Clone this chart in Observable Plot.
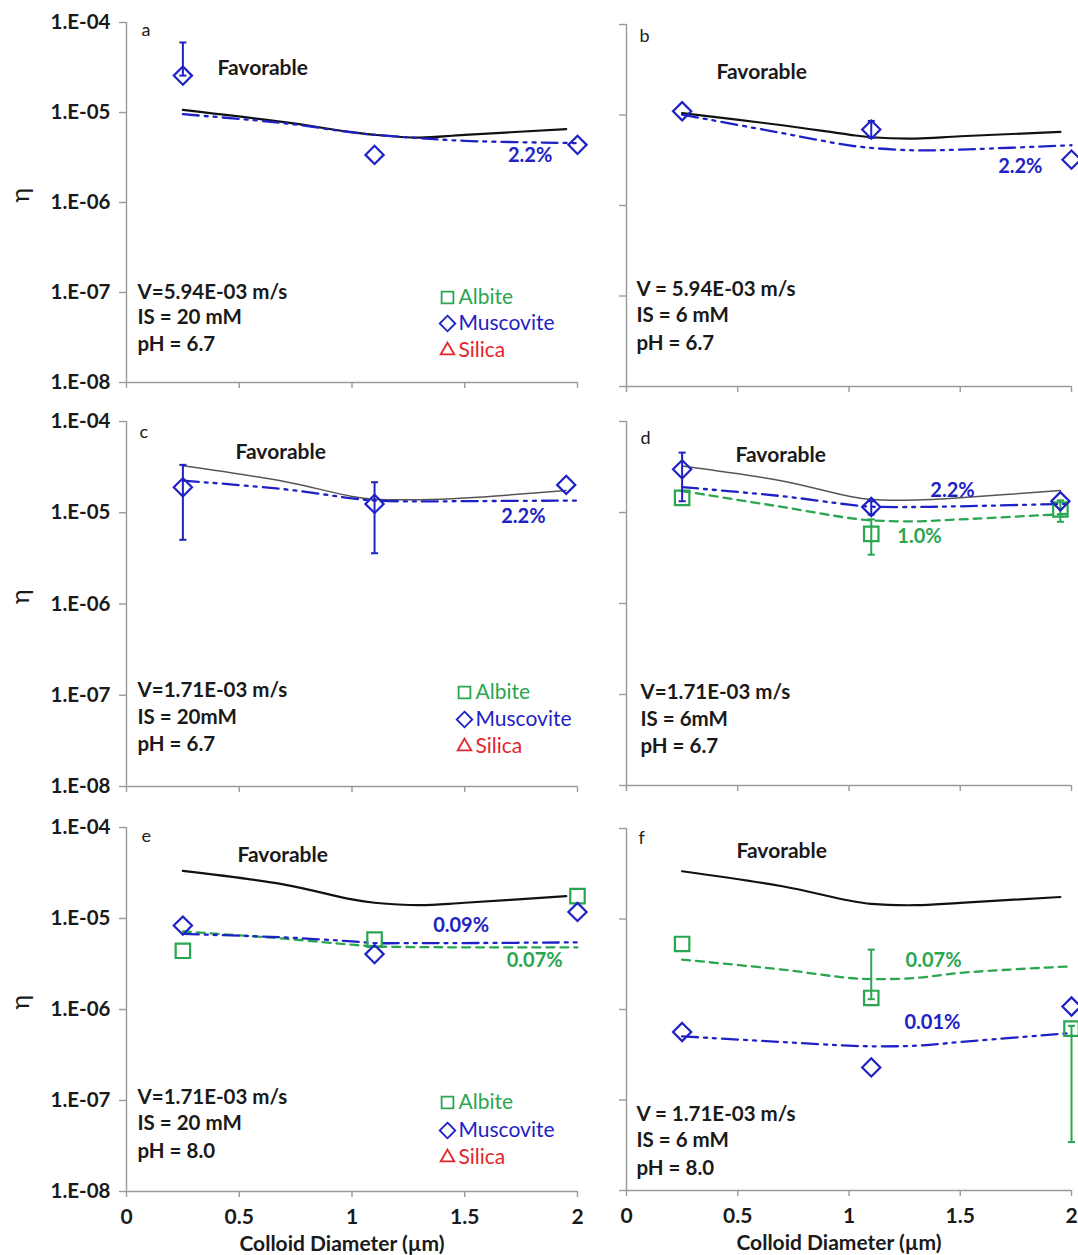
<!DOCTYPE html>
<html>
<head>
<meta charset="utf-8">
<title>Collector efficiency vs colloid diameter</title>
<script src="https://cdn.jsdelivr.net/npm/d3@7"></script>
<script src="https://cdn.jsdelivr.net/npm/@observablehq/plot@0.6"></script>
<style>
  html, body { margin: 0; padding: 0; background: #fff; }
  #fig { position: relative; width: 1078px; height: 1255px; overflow: hidden; background: #fff; }
  #fig svg { position: absolute; overflow: visible; }
</style>
</head>
<body>
<div id="fig"></div>
<script>
// Colloid diameters (µm) of the measured points
const sizeX   = [0.25, 1.1, 2.0];
const sizeXcd = [0.25, 1.1, 1.95];
// Diameters at which the model curves are drawn
const favX = [0.25, 0.7, 1.0, 1.1, 1.3, 1.5, 1.95];
const fitX = [0.25, 0.7, 1.0, 1.1, 1.3, 1.5, 2.0];

const xTicks = [0, 0.5, 1, 1.5, 2];
const yTicks = [1e-4, 1e-5, 1e-6, 1e-7, 1e-8];

// (a) V = 5.94E-03 m/s, IS = 20 mM, pH 6.7
const favA     = [1.07e-5, 7.8e-6, 6.04e-6, 5.65e-6, 5.27e-6, 5.65e-6, 6.52e-6];
const muscFitA = [9.57e-6, 7.6e-6, 6.0e-6, 5.65e-6, 5.19e-6, 4.84e-6, 4.57e-6];
const muscA    = [2.57e-5, 3.38e-6, 4.37e-6];
const muscLoA  = [2.57e-5, null, null];
const muscHiA  = [6.0e-5, null, null];

// (b) V = 5.94E-03 m/s, IS = 6 mM, pH 6.7
const favB     = [1.05e-5, 7.7e-6, 6.07e-6, 5.68e-6, 5.49e-6, 5.82e-6, 6.5e-6];
const muscFitB = [1.01e-5, 6.3e-6, 4.62e-6, 4.33e-6, 4.07e-6, 4.15e-6, 4.63e-6];
const muscB    = [1.10e-5, 6.9e-6, 3.21e-6];
const muscLoB  = [null, 5.6e-6, null];
const muscHiB  = [null, 8.6e-6, null];

// (c) V = 1.71E-03 m/s, IS = 20 mM, pH 6.7
const favC     = [3.27e-5, 2.2e-5, 1.51e-5, 1.41e-5, 1.39e-5, 1.45e-5, 1.75e-5];
const muscFitC = [2.25e-5, 1.81e-5, 1.44e-5, 1.36e-5, 1.33e-5, 1.34e-5, 1.36e-5];
const muscC    = [1.9e-5, 1.25e-5, 2.02e-5];
const muscLoC  = [5.05e-6, 3.6e-6, null];
const muscHiC  = [3.35e-5, 2.16e-5, null];

// (d) V = 1.71E-03 m/s, IS = 6 mM, pH 6.7
const favD     = [3.24e-5, 2.22e-5, 1.51e-5, 1.39e-5, 1.37e-5, 1.45e-5, 1.75e-5];
const muscFitD = [1.9e-5, 1.51e-5, 1.22e-5, 1.16e-5, 1.15e-5, 1.17e-5, 1.25e-5];
const albFitD  = [1.72e-5, 1.15e-5, 8.7e-6, 8.2e-6, 8.0e-6, 8.4e-6, 9.7e-6];
const muscD    = [2.98e-5, 1.15e-5, 1.33e-5];
const muscLoD  = [1.33e-5, 9.5e-6, null];
const muscHiD  = [4.55e-5, 1.33e-5, null];
const albD     = [1.45e-5, 5.82e-6, 1.08e-5];
const albLoD   = [null, 3.44e-6, 7.9e-6];
const albHiD   = [null, 8.4e-6, 1.36e-5];

// (e) V = 1.71E-03 m/s, IS = 20 mM, pH 8.0
const favE     = [3.33e-5, 2.36e-5, 1.62e-5, 1.49e-5, 1.40e-5, 1.49e-5, 1.76e-5];
const muscFitE = [6.76e-6, 6.2e-6, 5.6e-6, 5.37e-6, 5.37e-6, 5.37e-6, 5.47e-6];
const albFitE  = [7.2e-6, 6.0e-6, 5.15e-6, 4.94e-6, 4.85e-6, 4.82e-6, 4.82e-6];
const muscE    = [8.36e-6, 4.06e-6, 1.18e-5];
const albE     = [4.42e-6, 5.85e-6, 1.76e-5];

// (f) V = 1.71E-03 m/s, IS = 6 mM, pH 8.0
const favF     = [3.37e-5, 2.30e-5, 1.6e-5, 1.47e-5, 1.42e-5, 1.51e-5, 1.75e-5];
const muscFitF = [5.05e-7, 4.37e-7, 3.98e-7, 3.92e-7, 3.98e-7, 4.37e-7, 5.5e-7];
const albFitF  = [3.56e-6, 2.76e-6, 2.23e-6, 2.17e-6, 2.23e-6, 2.54e-6, 3.0e-6];
const muscF    = [5.64e-7, 2.29e-7, 1.08e-6];
const albF     = [5.3e-6, 1.34e-6, 6.14e-7];
const albLoF   = [null, 1.3e-6, 3.43e-8];
const albHiF   = [null, 4.59e-6, 6.6e-7];

const legendNames = ["Albite", "Muscovite", "Silica"];

// ---- styling ----
const FONT = "Lato, 'Open Sans', 'DejaVu Sans', sans-serif";
const INK = "#1a1a1a";
const AXIS = "#9a9a9a";
const BLUE = "#1e22c4";
const GREEN = "#2aa650";
const RED = "#e4262c";
const DASH_BLUE = "16,6,3,6,3,6";
const DASH_GREEN = "8,6";

const rows = (xs, ys, lo, hi) =>
  xs.map((x, i) => ({x, y: ys[i], lo: lo ? lo[i] : null, hi: hi ? hi[i] : null}));
const fmtY = d => "1.E-" + String(Math.round(-Math.log10(d))).padStart(2, "0");

// short horizontal cap for error bars
const cap = {draw(ctx, size) { const w = Math.sqrt(size) / 2; ctx.moveTo(-w, 0); ctx.lineTo(w, 0); }};

const musc = (xs, ys, fit, lo, hi) => ({color: BLUE, symbol: "diamond2", r: 8.2, dash: DASH_BLUE, pts: rows(xs, ys, lo, hi), fit: rows(fitX, fit)});
const alb  = (xs, ys, fit, lo, hi) => ({color: GREEN, symbol: "square2", r: 9.2, dash: DASH_GREEN, pts: rows(xs, ys, lo, hi), fit: rows(fitX, fit)});

const panels = [
  {letter: "a", col: 0, row: 0, top: 22, bottom: 382, fav: favA, favColor: "#111", favWidth: 2.2,
   series: [musc(sizeX, muscA, muscFitA, muscLoA, muscHiA)],
   letterPos: [15, 8], favPos: [91, 46],
   info: ["V=5.94E-03 m/s", "IS = 20 mM", "pH = 6.7"], infoDx: 11, infoDy: [-90, -65, -38],
   legend: {sym: 321, txt: 332, dy: [-85, -59, -32]},
   notes: [{text: "2.2%", x: 1.79, y: 3.3e-6, color: BLUE}]},
  {letter: "b", col: 1, row: 0, top: 24, bottom: 386, fav: favB, favColor: "#111", favWidth: 2.2,
   series: [musc(sizeX, muscB, muscFitB, muscLoB, muscHiB)],
   letterPos: [13, 12], favPos: [90, 48],
   info: ["V = 5.94E-03 m/s", "IS = 6 mM", "pH = 6.7"], infoDx: 10, infoDy: [-97, -71, -43],
   notes: [{text: "2.2%", x: 1.77, y: 2.7e-6, color: BLUE}]},
  {letter: "c", col: 0, row: 1, top: 421, bottom: 786, fav: favC, favColor: "#555", favWidth: 1.5,
   series: [musc(sizeXcd, muscC, muscFitC, muscLoC, muscHiC)],
   letterPos: [13, 11], favPos: [109, 31],
   info: ["V=1.71E-03 m/s", "IS = 20mM", "pH = 6.7"], infoDx: 11, infoDy: [-96, -69, -42],
   legend: {sym: 338, txt: 349, dy: [-94, -67, -40]},
   notes: [{text: "2.2%", x: 1.76, y: 9.0e-6, color: BLUE}]},
  {letter: "d", col: 1, row: 1, top: 421, bottom: 785, fav: favD, favColor: "#555", favWidth: 1.5,
   series: [alb(sizeXcd, albD, albFitD, albLoD, albHiD), musc(sizeXcd, muscD, muscFitD, muscLoD, muscHiD)],
   letterPos: [14, 17], favPos: [109, 34],
   info: ["V=1.71E-03 m/s", "IS = 6mM", "pH = 6.7"], infoDx: 14, infoDy: [-93, -66, -39],
   notes: [{text: "2.2%", x: 1.465, y: 1.75e-5, color: BLUE}, {text: "1.0%", x: 1.317, y: 5.45e-6, color: GREEN}]},
  {letter: "e", col: 0, row: 2, top: 827, bottom: 1191, fav: favE, favColor: "#111", favWidth: 2.2,
   series: [alb(sizeX, albE, albFitE), musc(sizeX, muscE, muscFitE)],
   letterPos: [15, 9], favPos: [111, 28],
   info: ["V=1.71E-03 m/s", "IS = 20 mM", "pH = 8.0"], infoDx: 11, infoDy: [-94, -68, -40],
   legend: {sym: 321, txt: 332, dy: [-89, -61, -34]},
   notes: [{text: "0.09%", x: 1.484, y: 8.3e-6, color: BLUE}, {text: "0.07%", x: 1.81, y: 3.42e-6, color: GREEN}]},
  {letter: "f", col: 1, row: 2, top: 828, bottom: 1190, fav: favF, favColor: "#111", favWidth: 2.2,
   series: [alb(sizeX, albF, albFitF, albLoF, albHiF), musc(sizeX, muscF, muscFitF)],
   letterPos: [12, 10], favPos: [110, 23],
   info: ["V = 1.71E-03 m/s", "IS = 6 mM", "pH = 8.0"], infoDx: 10, infoDy: [-76, -50, -22],
   notes: [{text: "0.07%", x: 1.38, y: 3.47e-6, color: GREEN}, {text: "0.01%", x: 1.375, y: 7.2e-7, color: BLUE}]}
];

const fig = document.getElementById("fig");

for (const p of panels) {
  const left = p.col === 0;
  const bottomRow = p.row === 2;
  const W = left ? 600 : 538;
  const svgLeft = left ? 0 : 540;
  const mL = left ? 126 : 86;
  const plotW = left ? 451 : 445;
  const mT = 22;
  const mB = bottomRow ? 65 : 20;
  const H = (p.bottom - p.top) + mT + mB;

  const marks = [
    Plot.ruleX([0], {stroke: AXIS, strokeWidth: 1.4}),
    Plot.ruleY([1e-8], {stroke: AXIS, strokeWidth: 1.4}),
    Plot.axisY(yTicks, {tickSize: 7, tickPadding: 9, stroke: AXIS, strokeWidth: 1.4, fill: INK,
      fontSize: 20.5, fontWeight: "bold", label: null, tickFormat: left ? fmtY : () => ""}),
    Plot.axisX(xTicks, {tickSize: 6, tickPadding: 12, stroke: AXIS, strokeWidth: 1.4, fill: INK,
      fontSize: 21, fontWeight: "bold", label: null, tickFormat: bottomRow ? (d => String(d)) : () => ""}),
    Plot.line(rows(favX, p.fav), {x: "x", y: "y", stroke: p.favColor, strokeWidth: p.favWidth, curve: "catmull-rom"})
  ];

  for (const s of p.series) {
    marks.push(Plot.line(s.fit, {x: "x", y: "y", stroke: s.color, strokeWidth: 2.3, strokeDasharray: s.dash, curve: "catmull-rom"}));
  }
  for (const s of p.series) {
    const err = s.pts.filter(d => d.lo != null);
    marks.push(
      Plot.ruleX(err, {x: "x", y1: "lo", y2: "hi", stroke: s.color, strokeWidth: 2}),
      Plot.dot(err, {x: "x", y: "lo", symbol: cap, r: 4, stroke: s.color, strokeWidth: 2}),
      Plot.dot(err, {x: "x", y: "hi", symbol: cap, r: 4, stroke: s.color, strokeWidth: 2}),
      Plot.dot(s.pts, {x: "x", y: "y", symbol: s.symbol, r: s.r, stroke: s.color, strokeWidth: 2.2, fill: "none"})
    );
  }

  // panel letter and "Favorable" heading
  marks.push(
    Plot.text([p.letter], {frameAnchor: "top-left", lineAnchor: "middle", textAnchor: "start", dx: p.letterPos[0], dy: p.letterPos[1], fontSize: 18, fill: INK}),
    Plot.text(["Favorable"], {frameAnchor: "top-left", lineAnchor: "middle", textAnchor: "start", dx: p.favPos[0], dy: p.favPos[1], fontSize: 21, fontWeight: "bold", fill: INK})
  );

  // flow conditions
  p.info.forEach((t, i) => marks.push(
    Plot.text([t], {frameAnchor: "bottom-left", lineAnchor: "middle", textAnchor: "start", dx: p.infoDx, dy: p.infoDy[i], fontSize: 20.5, fontWeight: "bold", fill: INK})
  ));

  // value labels on the fitted curves
  marks.push(Plot.text(p.notes, {x: "x", y: "y", text: "text", fill: "color", fontSize: 20, fontWeight: "bold"}));

  // legend
  if (p.legend) {
    const syms = ["square2", "diamond2", "triangle2"];
    const cols = [GREEN, BLUE, RED];
    const rs = [7.5, 7, 6.5];
    legendNames.forEach((name, i) => marks.push(
      Plot.dot([0], {frameAnchor: "bottom-left", dx: p.legend.sym, dy: p.legend.dy[i], symbol: syms[i], r: rs[i], stroke: cols[i], strokeWidth: 1.8, fill: "none"}),
      Plot.text([name], {frameAnchor: "bottom-left", lineAnchor: "middle", textAnchor: "start", dx: p.legend.txt, dy: p.legend.dy[i], fontSize: 21, fill: cols[i]})
    ));
  }

  // η axis title (left column)
  if (left) {
    marks.push(Plot.text(["η"], {frameAnchor: "left", lineAnchor: "middle", dx: -106, rotate: -90, fontSize: 25, fill: INK}));
  }
  // x axis title (bottom row)
  if (bottomRow) {
    marks.push(Plot.text(["Colloid Diameter (µm)"], {frameAnchor: "bottom", lineAnchor: "middle", dx: -10, dy: 53, fontSize: 21, fontWeight: "bold", fill: INK}));
  }

  const svg = Plot.plot({
    width: W, height: H,
    marginLeft: mL, marginRight: W - mL - plotW, marginTop: mT, marginBottom: mB,
    x: {domain: [0, 2]},
    y: {type: "log", domain: [1e-8, 1e-4]},
    style: {fontFamily: FONT, overflow: "visible", background: "transparent"},
    marks
  });
  svg.style.left = svgLeft + "px";
  svg.style.top = (p.top - mT) + "px";
  fig.appendChild(svg);
}
</script>
</body>
</html>
